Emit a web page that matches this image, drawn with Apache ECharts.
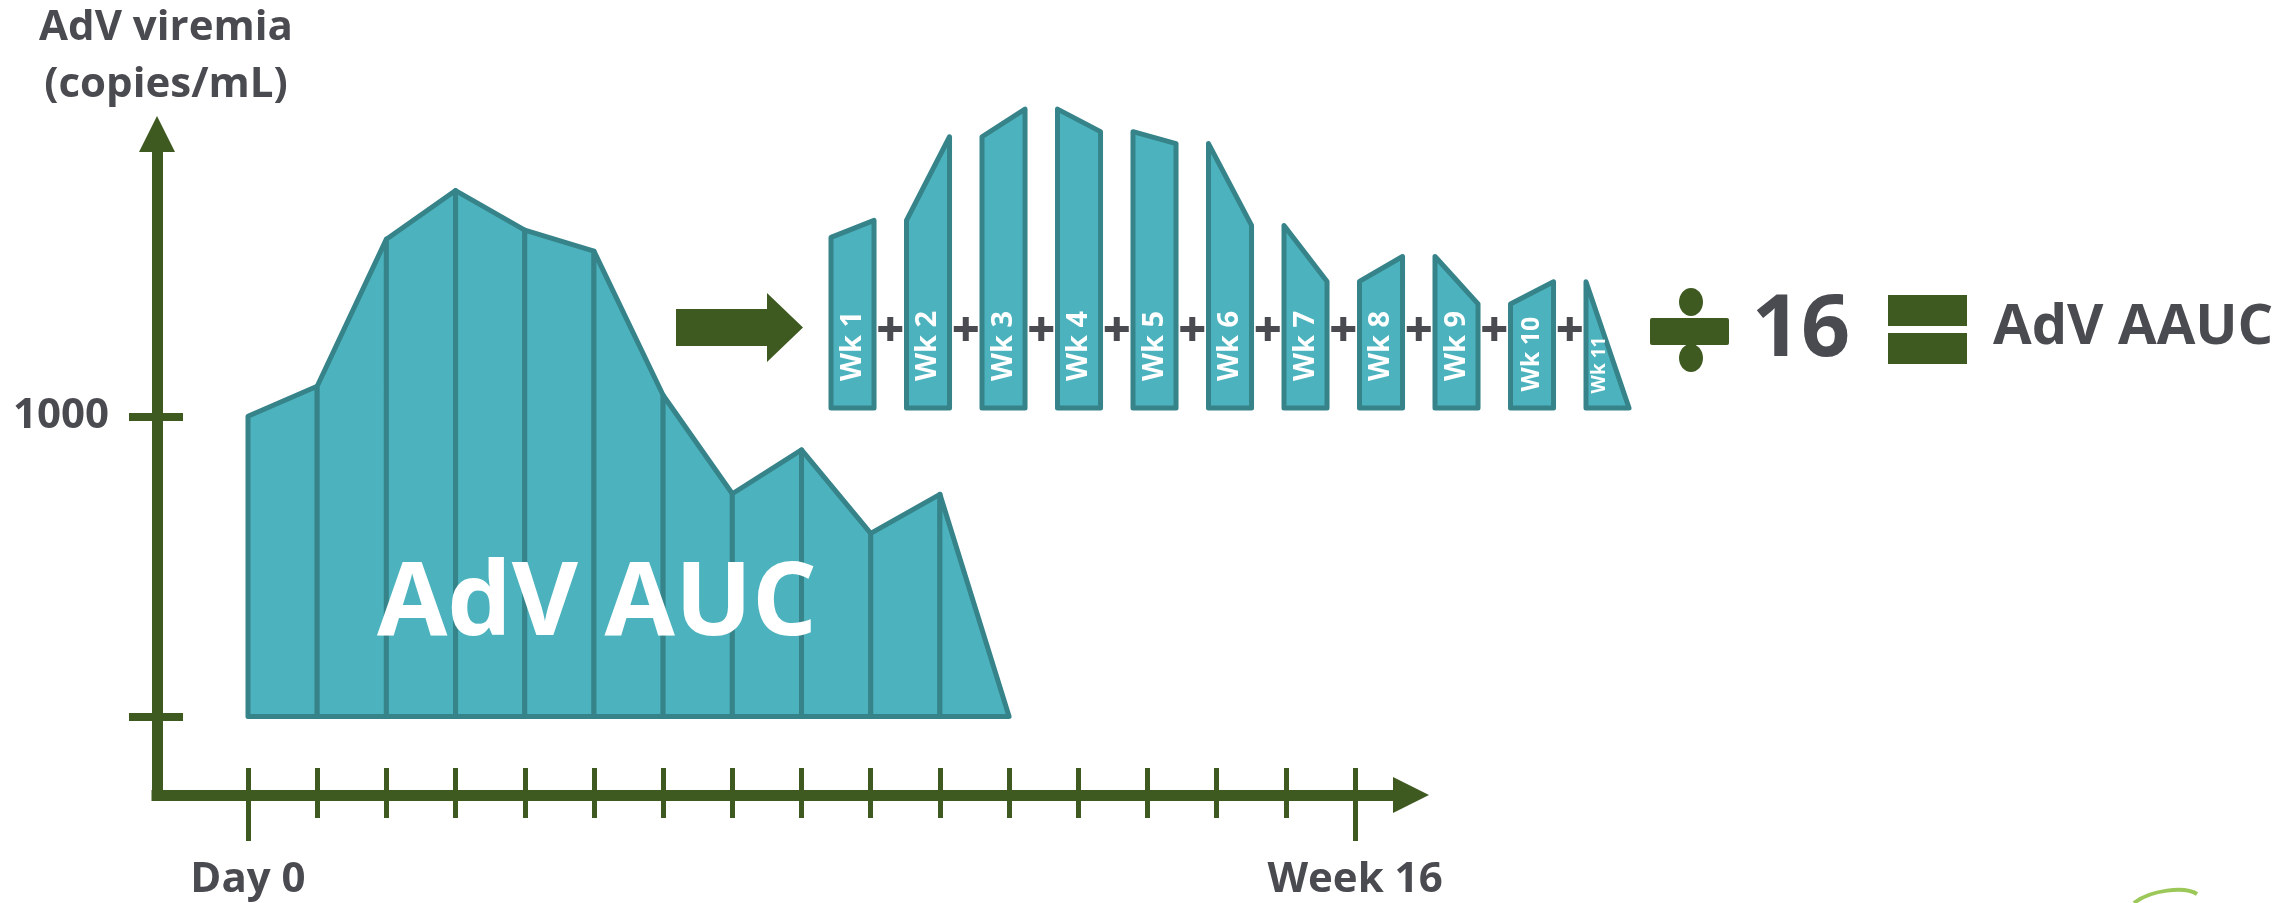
<!DOCTYPE html>
<html>
<head>
<meta charset="utf-8">
<title>AdV AAUC</title>
<script src="https://cdn.jsdelivr.net/npm/echarts@6.0.0/dist/echarts.min.js"></script>
<style>
  html, body { margin: 0; padding: 0; background: #ffffff; }
  #chart { width: 2286px; height: 903px; }
</style>
</head>
<body>
<div id="chart"></div>
<script>
// ---- data ----
const weekNumbers = [0, 1, 2, 3, 4, 5, 6, 7, 8, 9, 10, 11];
const viremia = [1000, 1100, 1590, 1752, 1620, 1550, 1070, 742, 888, 610, 740, 0];
const weekLabels = ['Wk 1', 'Wk 2', 'Wk 3', 'Wk 4', 'Wk 5', 'Wk 6', 'Wk 7', 'Wk 8', 'Wk 9', 'Wk 10', 'Wk 11'];
const timeTicks = [0, 1, 2, 3, 4, 5, 6, 7, 8, 9, 10, 11, 12, 13, 14, 15, 16];
const timeInnerTicks = [1, 2, 3, 4, 5, 6, 7, 8, 9, 10, 11, 12, 13, 14, 15];
const timeEndTicks = [0, 16];
const timeLabelTexts = ['Day 0', 'Week 16'];
const viremiaTicks = [0, 1000];
const viremiaLabelValues = [1000];
const aaucDivisor = 16;

// ---- styling ----
const GREEN = '#3f5a21';
const TEAL = '#4cb3be';
const TEAL_EDGE = '#36848a';
const INK = '#4a4b50';
const FONT = '"Open Sans", "Liberation Sans", sans-serif';

// ---- main plot frame (pixels) ----
const AX_LEFT = 157, AX_BOTTOM = 795, X_END = 1411, Y_END = 130;
const X0 = 248, PX_PER_WEEK = 69.19;
const Y0 = 716, PX_PER_UNIT = 0.302;
const xMin = (AX_LEFT - X0) / PX_PER_WEEK;
const xMax = (X_END - X0) / PX_PER_WEEK;
const yMin = -(AX_BOTTOM - Y0) / PX_PER_UNIT;
const yMax = (Y0 - Y_END) / PX_PER_UNIT;

// ---- exploded weekly strip (pixels) ----
const SLICE_W = 0.57;
const STRIP_LEFT = 831, STRIP_PITCH = 75.5, STRIP_BASE = 408, STRIP_PX_PER_UNIT = 0.1706;
const STRIP_MAX = 2000;
const stripXMax = (weekLabels.length - 1) + SLICE_W;

// one record per week interval: [start week, end week, start value, end value]
const intervals = weekNumbers.slice(1).map((w, i) => [weekNumbers[i], w, viremia[i], viremia[i + 1]]);

const sliceStyle = { fill: TEAL, stroke: TEAL_EDGE, lineWidth: 5, lineJoin: 'round' };

function renderArea(params, api) {
  const w0 = api.value(0), w1 = api.value(1), v0 = api.value(2), v1 = api.value(3);
  const pts = [api.coord([w0, 0]), api.coord([w0, v0]), api.coord([w1, v1]), api.coord([w1, 0])];
  return { type: 'polygon', shape: { points: pts }, style: sliceStyle };
}

function renderStrip(params, api) {
  const i = params.dataIndex;
  const vL = api.value(2), vR = api.value(3);
  const left = i, right = i + SLICE_W;
  const bl = api.coord([left, 0]), tl = api.coord([left, vL]);
  const tr = api.coord([right, vR]), br = api.coord([right, 0]);
  const children = [{ type: 'polygon', shape: { points: [bl, tl, tr, br] }, style: sliceStyle }];

  const label = weekLabels[i];
  const triangle = vR === 0;
  const longLabel = label.length > 4;
  const fs = triangle ? 19 : (longLabel ? 25 : 29);
  const cx = triangle ? bl[0] + 14 : (bl[0] + br[0]) / 2;
  const cy = bl[1] - (triangle ? 43 : (longLabel ? 54 : 62));
  children.push({
    type: 'text', x: cx, y: cy, rotation: Math.PI / 2,
    style: { text: label, fill: '#ffffff', fontSize: fs, fontWeight: 'bold', fontFamily: FONT,
             align: 'center', verticalAlign: 'middle' }
  });

  if (i < weekLabels.length - 1) {
    const next = api.coord([i + 1, 0]);
    const px = (br[0] + next[0]) / 2, py = bl[1] - 79;
    children.push({ type: 'rect', shape: { x: px - 12, y: py - 3, width: 24, height: 6 }, style: { fill: INK } });
    children.push({ type: 'rect', shape: { x: px - 3, y: py - 12, width: 6, height: 24 }, style: { fill: INK } });
  }
  return { type: 'group', children };
}

const axisLineStyle = { color: GREEN, width: 11, cap: 'square' };
const labelText = { color: INK, fontSize: 42, fontWeight: 'bold', fontFamily: FONT };

const option = {
  animation: false,
  backgroundColor: '#ffffff',
  grid: [
    { left: AX_LEFT, top: Y_END, width: X_END - AX_LEFT, height: AX_BOTTOM - Y_END },
    { left: STRIP_LEFT, top: STRIP_BASE - STRIP_MAX * STRIP_PX_PER_UNIT,
      width: stripXMax * STRIP_PITCH, height: STRIP_MAX * STRIP_PX_PER_UNIT }
  ],
  xAxis: [
    {
      gridIndex: 0, type: 'value', position: 'bottom', min: xMin, max: xMax,
      splitLine: { show: false },
      axisLine: { show: true, onZero: false, symbol: ['none', 'triangle'], symbolSize: [36, 36],
                  lineStyle: axisLineStyle },
      axisTick: { show: true, inside: true, length: 27, customValues: timeTicks,
                  lineStyle: { color: GREEN, width: 5 } },
      axisLabel: {
        show: true, customValues: timeEndTicks, margin: 64, ...labelText,
        formatter: v => timeLabelTexts[v === 0 ? 0 : 1]
      }
    },
    {
      gridIndex: 0, type: 'value', position: 'bottom', min: xMin, max: xMax,
      splitLine: { show: false }, axisLine: { show: false, onZero: false }, axisLabel: { show: false },
      axisTick: { show: true, inside: false, length: 23, customValues: timeInnerTicks,
                  lineStyle: { color: GREEN, width: 5 } }
    },
    {
      gridIndex: 0, type: 'value', position: 'bottom', min: xMin, max: xMax,
      splitLine: { show: false }, axisLine: { show: false, onZero: false }, axisLabel: { show: false },
      axisTick: { show: true, inside: false, length: 46, customValues: timeEndTicks,
                  lineStyle: { color: GREEN, width: 5 } }
    },
    { gridIndex: 1, type: 'value', min: 0, max: stripXMax, show: false }
  ],
  yAxis: [
    {
      gridIndex: 0, type: 'value', position: 'left', min: yMin, max: yMax,
      splitLine: { show: false },
      axisLine: { show: true, onZero: false, symbol: ['none', 'triangle'], symbolSize: [36, 36],
                  lineStyle: axisLineStyle },
      axisTick: { show: true, inside: true, length: 26, customValues: viremiaTicks,
                  lineStyle: { color: GREEN, width: 8 } },
      axisLabel: { show: true, customValues: viremiaLabelValues, margin: 48, ...labelText,
                   formatter: v => String(v) },
      name: 'AdV viremia\n(copies/mL)',
      nameLocation: 'end',
      nameGap: 20,
      nameTextStyle: { ...labelText, lineHeight: 57, align: 'center', verticalAlign: 'bottom',
                       padding: [0, 0, 0, 18] }
    },
    {
      gridIndex: 0, type: 'value', position: 'left', min: yMin, max: yMax,
      splitLine: { show: false }, axisLine: { show: false, onZero: false }, axisLabel: { show: false },
      axisTick: { show: true, inside: false, length: 28, customValues: viremiaTicks,
                  lineStyle: { color: GREEN, width: 8 } }
    },
    { gridIndex: 1, type: 'value', min: 0, max: STRIP_MAX, show: false }
  ],
  series: [
    { type: 'custom', name: 'AdV AUC', xAxisIndex: 0, yAxisIndex: 0, silent: true,
      renderItem: renderArea, data: intervals },
    { type: 'custom', name: 'weekly slices', xAxisIndex: 3, yAxisIndex: 2, silent: true,
      renderItem: renderStrip, data: intervals }
  ],
  graphic: [
    // area label
    { type: 'text', x: 597, y: 606, z: 100,
      style: { text: 'AdV AUC', fill: '#ffffff', fontSize: 102, fontWeight: 'bold', fontFamily: FONT,
               align: 'center', verticalAlign: 'middle' } },
    // block arrow
    { type: 'polygon', z: 100,
      shape: { points: [[676, 309], [767, 309], [767, 293], [803, 327.5], [767, 362], [767, 346], [676, 346]] },
      style: { fill: GREEN } },
    // division sign
    { type: 'rect', z: 100, shape: { x: 1650, y: 318, width: 79, height: 27, r: 2 }, style: { fill: GREEN } },
    { type: 'ellipse', z: 100, shape: { cx: 1691, cy: 302, rx: 12, ry: 14 }, style: { fill: GREEN } },
    { type: 'ellipse', z: 100, shape: { cx: 1691, cy: 358, rx: 12, ry: 14 }, style: { fill: GREEN } },
    { type: 'text', x: 1801, y: 331, z: 100,
      style: { text: String(aaucDivisor), fill: INK, fontSize: 86, fontWeight: 'bold', fontFamily: FONT,
               align: 'center', verticalAlign: 'middle' } },
    // equals sign
    { type: 'rect', z: 100, shape: { x: 1888, y: 295, width: 79, height: 31 }, style: { fill: GREEN } },
    { type: 'rect', z: 100, shape: { x: 1888, y: 333, width: 79, height: 31 }, style: { fill: GREEN } },
    { type: 'text', x: 1993, y: 328, z: 100,
      style: { text: 'AdV AAUC', fill: INK, fontSize: 56, fontWeight: 'bold', fontFamily: FONT,
               align: 'left', verticalAlign: 'middle' } },
    // corner mark
    { type: 'bezierCurve', z: 100,
      shape: { x1: 2134, y1: 903, cpx1: 2150, cpy1: 890, cpx2: 2185, cpy2: 886, x2: 2197, y2: 894 },
      style: { stroke: '#9cc85a', lineWidth: 4, fill: null } }
  ]
};

const chart = echarts.init(document.getElementById('chart'), null, { renderer: 'canvas' });
chart.setOption(option);
</script>
</body>
</html>
